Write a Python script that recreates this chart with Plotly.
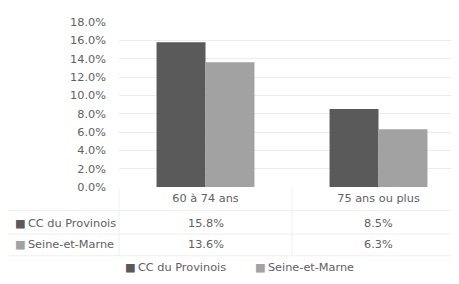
import plotly.graph_objects as go

categories = ["60 à 74 ans", "75 ans ou plus"]
series_names = ["CC du Provinois", "Seine-et-Marne"]
cc_provinois = [15.8, 8.5]
seine_et_marne = [13.6, 6.3]
y_ticks = [0, 2, 4, 6, 8, 10, 12, 14, 16, 18]

colors = ["#5a5a5a", "#a2a2a2"]
text_color = "#616161"
font_family = "DejaVu Sans, sans-serif"
fs = 11.3

OFF = 8  # page body margin offset
W, H = 459, 284
sx0, sx1, sy0, sy1 = 119, 459, 19, 187
ml, mr, mt, mb = sx0 - OFF, W - (sx1 - OFF), sy0 - OFF, H - (sy1 - OFF)
plot_h = sy1 - sy0
plot_w = sx1 - sx0


def py2paper(py):
    return (sy1 - py) / plot_h


def px2paper(px):
    return (px - sx0) / plot_w


fig = go.Figure()
for name, vals, col in zip(series_names, [cc_provinois, seine_et_marne], colors):
    fig.add_trace(go.Bar(x=categories, y=vals, name=name, marker=dict(color=col, line=dict(width=0)),
                         showlegend=False))

annotations = []
row_py = [224, 246]
for name, vals, col, py in zip(series_names, [cc_provinois, seine_et_marne], colors, row_py):
    annotations.append(dict(
        x=px2paper(13), y=py2paper(py), xref="paper", yref="paper", xanchor="left", yanchor="middle",
        text=f"<span style='color:{col}'>■</span>\u2009{name}", showarrow=False,
        font=dict(size=fs, color=text_color, family=font_family)))
    for cat, v in zip(categories, vals):
        annotations.append(dict(
            x=cat, y=py2paper(py), xref="x", yref="paper", xanchor="center", yanchor="middle",
            text=f"{v:.1f}%", showarrow=False,
            font=dict(size=fs, color=text_color, family=font_family)))

leg_py = 269
leg_x = [123, 253]
for name, col, lx in zip(series_names, colors, leg_x):
    annotations.append(dict(
        x=px2paper(lx), y=py2paper(leg_py), xref="paper", yref="paper", xanchor="left", yanchor="middle",
        text=f"<span style='color:{col}'>■</span>\u2009{name}", showarrow=False,
        font=dict(size=fs, color=text_color, family=font_family)))

shapes = []
line_col = "#efefef"
for py in [211, 235, 257]:
    shapes.append(dict(type="line", xref="paper", yref="paper",
                       x0=px2paper(5), x1=1, y0=py2paper(py), y1=py2paper(py),
                       line=dict(color=line_col, width=1)))
for px in [119, 292]:
    shapes.append(dict(type="line", xref="paper", yref="paper",
                       x0=px2paper(px), x1=px2paper(px), y0=py2paper(188), y1=py2paper(257),
                       line=dict(color=line_col, width=1)))

fig.update_layout(
    width=W, height=H,
    margin=dict(l=ml, r=mr, t=mt, b=mb, pad=0),
    paper_bgcolor="white", plot_bgcolor="white",
    barmode="group", bargap=0.434, bargroupgap=0,
    font=dict(family=font_family, color=text_color, size=fs),
    xaxis=dict(range=[-0.5, -0.5 + plot_w / 173], showline=False, ticks="", showgrid=False,
               ticklabelstandoff=3,
               tickfont=dict(size=fs, color=text_color), fixedrange=True),
    yaxis=dict(range=[0, 18], tickvals=y_ticks, ticktext=[f"{t:.1f}%" for t in y_ticks],
               showgrid=True, gridcolor="#ececec", gridwidth=1, zeroline=False, showline=False,
               ticks="", ticklabelstandoff=12, tickfont=dict(size=fs, color=text_color)),
    annotations=annotations,
    shapes=shapes,
)

fig.write_html("out.html")
